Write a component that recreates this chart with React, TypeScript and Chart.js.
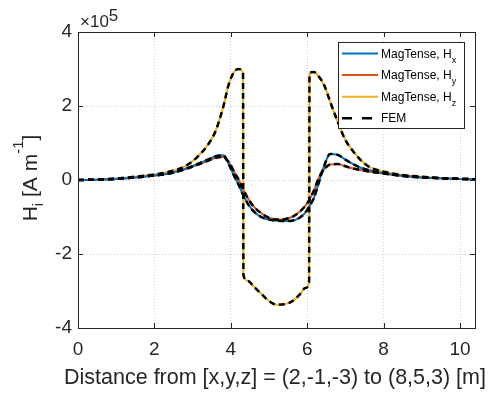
import { useEffect, useRef } from 'react';
import { Chart, registerables } from 'chart.js';

Chart.register(...registerables);

// Distance along the line [m]
const distance = [0, 0.5, 1, 1.5, 2, 2.4, 2.8, 3.1, 3.4, 3.6, 3.8, 3.95, 4.1, 4.2, 4.32, 4.33, 4.45, 4.6, 4.8, 5.0, 5.2, 5.4, 5.6, 5.8, 5.95, 6.05, 6.06, 6.17, 6.3, 6.45, 6.6, 6.8, 7.0, 7.2, 7.4, 7.6, 7.9, 8.2, 8.6, 9.0, 9.5, 10.0, 10.39];

// Field components in units of 1e5 A/m
const hx = [0, 0.01, 0.03, 0.07, 0.12, 0.18, 0.3, 0.42, 0.55, 0.64, 0.67, 0.42, 0.08, -0.12, -0.4, -0.42, -0.65, -0.85, -1.0, -1.07, -1.1, -1.11, -1.1, -1.02, -0.88, -0.72, -0.7, -0.5, -0.08, 0.4, 0.7, 0.68, 0.55, 0.43, 0.33, 0.27, 0.2, 0.15, 0.1, 0.07, 0.05, 0.03, 0.02];
const hy = [0, 0.01, 0.03, 0.07, 0.12, 0.18, 0.29, 0.4, 0.52, 0.6, 0.62, 0.48, 0.2, 0.02, -0.25, -0.27, -0.5, -0.72, -0.9, -1.02, -1.07, -1.06, -1.0, -0.86, -0.7, -0.55, -0.53, -0.3, 0.05, 0.3, 0.42, 0.43, 0.37, 0.31, 0.27, 0.23, 0.19, 0.15, 0.1, 0.07, 0.05, 0.03, 0.02];
const hz = [0, 0.01, 0.04, 0.09, 0.15, 0.23, 0.37, 0.6, 0.95, 1.32, 1.97, 2.6, 2.94, 3.0, 2.89, -2.57, -2.73, -2.88, -3.08, -3.27, -3.37, -3.36, -3.28, -3.1, -2.92, -2.76, 2.88, 2.92, 2.8, 2.55, 2.12, 1.57, 1.08, 0.78, 0.54, 0.37, 0.25, 0.18, 0.12, 0.09, 0.05, 0.03, 0.02];

const xTicks = [0, 2, 4, 6, 8, 10];
const yTicks = [-4, -2, 0, 2, 4];
const xMax = 10.392;
const exponent = '5';
const xTitle = 'Distance from [x,y,z] = (2,-1,-3) to (8,5,3) [m]';

const legendLabels = ['MagTense, H', 'MagTense, H', 'MagTense, H', 'FEM'];
const legendSubs = ['x', 'y', 'z', ''];

const BLUE = '#0072BD';
const RED = '#D95319';
const YELLOW = '#EDB120';
const FONT = '"Liberation Sans", Arial, Helvetica, sans-serif';
const AX = '#262626';

const toPts = (ys: number[]) => distance.map((x, i) => ({ x, y: ys[i] }));

function drawRich(ctx: CanvasRenderingContext2D, parts: { t: string; size: number; dy: number }[], x: number, y: number, align: 'left' | 'center') {
  let total = 0;
  for (const p of parts) {
    ctx.font = `${p.size}px ${FONT}`;
    total += ctx.measureText(p.t).width;
  }
  let cx = align === 'center' ? x - total / 2 : x;
  ctx.textAlign = 'left';
  ctx.textBaseline = 'alphabetic';
  for (const p of parts) {
    ctx.font = `${p.size}px ${FONT}`;
    ctx.fillText(p.t, cx, y + p.dy);
    cx += ctx.measureText(p.t).width;
  }
}

const decor = {
  id: 'decor',
  afterDraw(chart: any) {
    const { ctx, chartArea: a, scales } = chart;
    ctx.save();
    // axes box
    ctx.strokeStyle = AX;
    ctx.lineWidth = 1;
    ctx.setLineDash([]);
    ctx.strokeRect(Math.round(a.left) + 0.5, Math.round(a.top) + 0.5, Math.round(a.right - a.left), Math.round(a.bottom - a.top));
    const tl = 5;
    ctx.beginPath();
    for (const v of xTicks) {
      const px = Math.round(scales.x.getPixelForValue(v)) + 0.5;
      ctx.moveTo(px, a.bottom); ctx.lineTo(px, a.bottom - tl);
      ctx.moveTo(px, a.top); ctx.lineTo(px, a.top + tl);
    }
    for (const v of yTicks) {
      const py = Math.round(scales.y.getPixelForValue(v)) + 0.5;
      ctx.moveTo(a.left, py); ctx.lineTo(a.left + tl, py);
      ctx.moveTo(a.right, py); ctx.lineTo(a.right - tl, py);
    }
    ctx.stroke();

    ctx.fillStyle = AX;
    // exponent label
    drawRich(ctx, [
      { t: '\u00d710', size: 17, dy: 0 },
      { t: exponent, size: 17, dy: -6 },
    ], a.left + 2, 27, 'left');

    // x title
    drawRich(ctx, [{ t: xTitle, size: 21.5, dy: 0 }], (a.left + a.right) / 2 - 1.5, 384, 'center');

    // y title
    ctx.save();
    ctx.translate(37, (a.top + a.bottom) / 2 - 2);
    ctx.rotate(-Math.PI / 2);
    drawRich(ctx, [
      { t: 'H', size: 21, dy: 0 },
      { t: 'i', size: 15, dy: 6 },
      { t: ' [A m', size: 21, dy: 0 },
      { t: '-1', size: 15, dy: -14 },
      { t: ']', size: 21, dy: 0 },
    ], 0, 0, 'center');
    ctx.restore();

    // legend
    const bx = 338, by = 42, bw = 126, bh = 86;
    ctx.fillStyle = '#ffffff';
    ctx.fillRect(bx, by, bw, bh);
    ctx.strokeStyle = AX;
    ctx.lineWidth = 1;
    ctx.strokeRect(bx + 0.5, by + 0.5, bw, bh);
    const colors = [BLUE, RED, YELLOW, '#000000'];
    for (let i = 0; i < legendLabels.length; i++) {
      const ly = 53.5 + i * 21.6;
      ctx.beginPath();
      ctx.strokeStyle = colors[i];
      ctx.lineWidth = i === 3 ? 2.5 : 2;
      ctx.setLineDash(i === 3 ? [10, 10] : []);
      ctx.moveTo(342, ly);
      ctx.lineTo(378, ly);
      ctx.stroke();
      ctx.setLineDash([]);
      ctx.fillStyle = '#000000';
      const parts = [{ t: legendLabels[i], size: 12, dy: 0 }];
      if (legendSubs[i]) parts.push({ t: legendSubs[i], size: 9, dy: 5 });
      drawRich(ctx, parts, 381, ly + 4, 'left');
    }
    ctx.restore();
  },
};

export default function App() {
  const ref = useRef<HTMLCanvasElement | null>(null);
  useEffect(() => {
    document.body.style.margin = '0';
    const canvas = ref.current;
    if (!canvas) return;
    Chart.defaults.font.family = FONT;
    const lineBase = { pointRadius: 0, fill: false, cubicInterpolationMode: 'monotone' as const };
    const chart = new Chart(canvas, {
      type: 'line',
      data: {
        datasets: [
          { ...lineBase, label: 'FEM Hx', data: toPts(hx), borderColor: '#000000', borderWidth: 2.5, borderDash: [6, 4], order: 0 },
          { ...lineBase, label: 'FEM Hy', data: toPts(hy), borderColor: '#000000', borderWidth: 2.5, borderDash: [6, 4], order: 0 },
          { ...lineBase, label: 'FEM Hz', data: toPts(hz), borderColor: '#000000', borderWidth: 2.5, borderDash: [6, 4], order: 0 },
          { ...lineBase, label: 'MagTense, Hx', data: toPts(hx), borderColor: BLUE, borderWidth: 2, order: 1 },
          { ...lineBase, label: 'MagTense, Hy', data: toPts(hy), borderColor: RED, borderWidth: 2, order: 1 },
          { ...lineBase, label: 'MagTense, Hz', data: toPts(hz), borderColor: YELLOW, borderWidth: 2, order: 1 },
        ],
      },
      options: {
        animation: false,
        responsive: false,
        devicePixelRatio: 1,
        layout: { padding: { top: 32, right: 16, left: 0, bottom: 0 } },
        plugins: { legend: { display: false }, tooltip: { enabled: false } },
        scales: {
          x: {
            type: 'linear',
            min: 0,
            max: xMax,
            afterFit: (s: any) => { s.height = 66; },
            afterBuildTicks: (s: any) => { s.ticks = xTicks.map((v) => ({ value: v })); },
            ticks: { font: { size: 19, family: FONT }, color: AX, padding: 10, maxRotation: 0, autoSkip: false, callback: (v: any) => String(v) },
            grid: { color: '#cfcfcf', lineWidth: 1, drawTicks: false },
            border: { display: false, dash: [1, 2] },
            title: { display: false },
          },
          y: {
            type: 'linear',
            min: -4,
            max: 4,
            afterFit: (s: any) => { s.width = 78; },
            afterBuildTicks: (s: any) => { s.ticks = yTicks.map((v) => ({ value: v })); },
            ticks: { font: { size: 19, family: FONT }, color: AX, padding: 6, callback: (v: any) => String(v) },
            grid: { color: '#cfcfcf', lineWidth: 1, drawTicks: false },
            border: { display: false, dash: [1, 2] },
          },
        },
      },
      plugins: [decor],
    });
    return () => chart.destroy();
  }, []);
  return <canvas ref={ref} width={491} height={394} style={{ display: 'block' }} />;
}
